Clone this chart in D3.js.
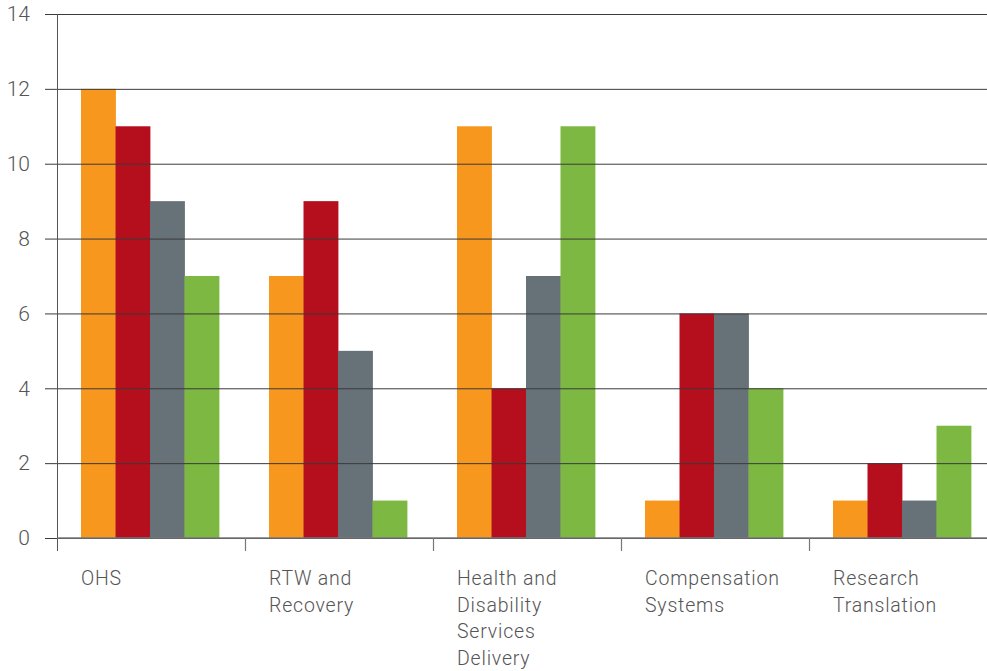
<!DOCTYPE html>
<html><head><meta charset="utf-8">
<script src="https://cdn.jsdelivr.net/npm/d3@7"></script>
<style>body{margin:0;background:#fff}svg{display:block}</style>
</head><body>
<svg id="c" width="987" height="671"></svg>
<script>
const categories = [["OHS"],["RTW and","Recovery"],["Health and","Disability","Services","Delivery"],["Compensation","Systems"],["Research","Translation"]];
const seriesNames = ["S1","S2","S3","S4"];
const s1 = [12, 7, 11, 1, 1];
const s2 = [11, 9, 4, 6, 2];
const s3 = [9, 5, 7, 6, 1];
const s4 = [7, 1, 11, 4, 3];
const colors = ["#F7971E","#B50E1C","#677178","#7DB842"];
const yTicks = [0,2,4,6,8,10,12,14];

const series = [s1,s2,s3,s4];
const catKeys = categories.map((c,i)=>i);
const svg = d3.select("#c");
const y = d3.scaleLinear().domain([0,14]).range([538,14]);
const x0 = d3.scaleBand().domain(catKeys).range([57,997]).padding(0);
const x1 = d3.scaleBand().domain(seriesNames).range([0,138]).padding(0);
const groupOffset = 24;

// bars
const g = svg.append("g");
catKeys.forEach(ci=>{
  g.selectAll(null).data(seriesNames).enter().append("rect")
    .attr("x", s=>x0(ci)+groupOffset+x1(s))
    .attr("width", x1.bandwidth()+0.4)
    .attr("y", (s,si)=>y(series[si][ci]))
    .attr("height", (s,si)=>y(0)-y(series[si][ci]))
    .attr("fill", (s,si)=>colors[si]);
});

// gridlines + y labels
const yAxis = d3.axisLeft(y).tickValues(yTicks).tickSize(-(987-45)).tickPadding(15);
const ya = svg.append("g").attr("transform","translate(45,0)").call(yAxis);
ya.select(".domain").remove();
ya.selectAll(".tick line").attr("stroke","#3a3a3a").attr("stroke-width",1);
ya.selectAll(".tick text").attr("font-family","Roboto").attr("font-weight",300)
  .attr("font-size",21).attr("fill","#555");

// vertical axis
svg.append("line").attr("x1",57.5).attr("x2",57.5).attr("y1",y(14)).attr("y2",551)
  .attr("stroke","#555").attr("stroke-width",1);
// bottom axis
svg.append("line").attr("x1",57).attr("x2",987).attr("y1",y(0)).attr("y2",y(0))
  .attr("stroke","#777").attr("stroke-width",1.5);
svg.selectAll(".ctick").data(catKeys.slice(1)).enter().append("line")
  .attr("x1",d=>x0(d)+0.5).attr("x2",d=>x0(d)+0.5).attr("y1",y(0)).attr("y2",551)
  .attr("stroke","#777").attr("stroke-width",1.2);

// category labels
catKeys.forEach(ci=>{
  const t = svg.append("text").attr("font-family","Roboto").attr("font-weight",300)
    .attr("font-size",19.5).attr("fill","#555").attr("letter-spacing","0.8px");
  categories[ci].forEach((line,li)=>{
    t.append("tspan").attr("x", x0(ci)+groupOffset).attr("y", 585+li*26.5).text(line);
  });
});
</script>
</body></html>
